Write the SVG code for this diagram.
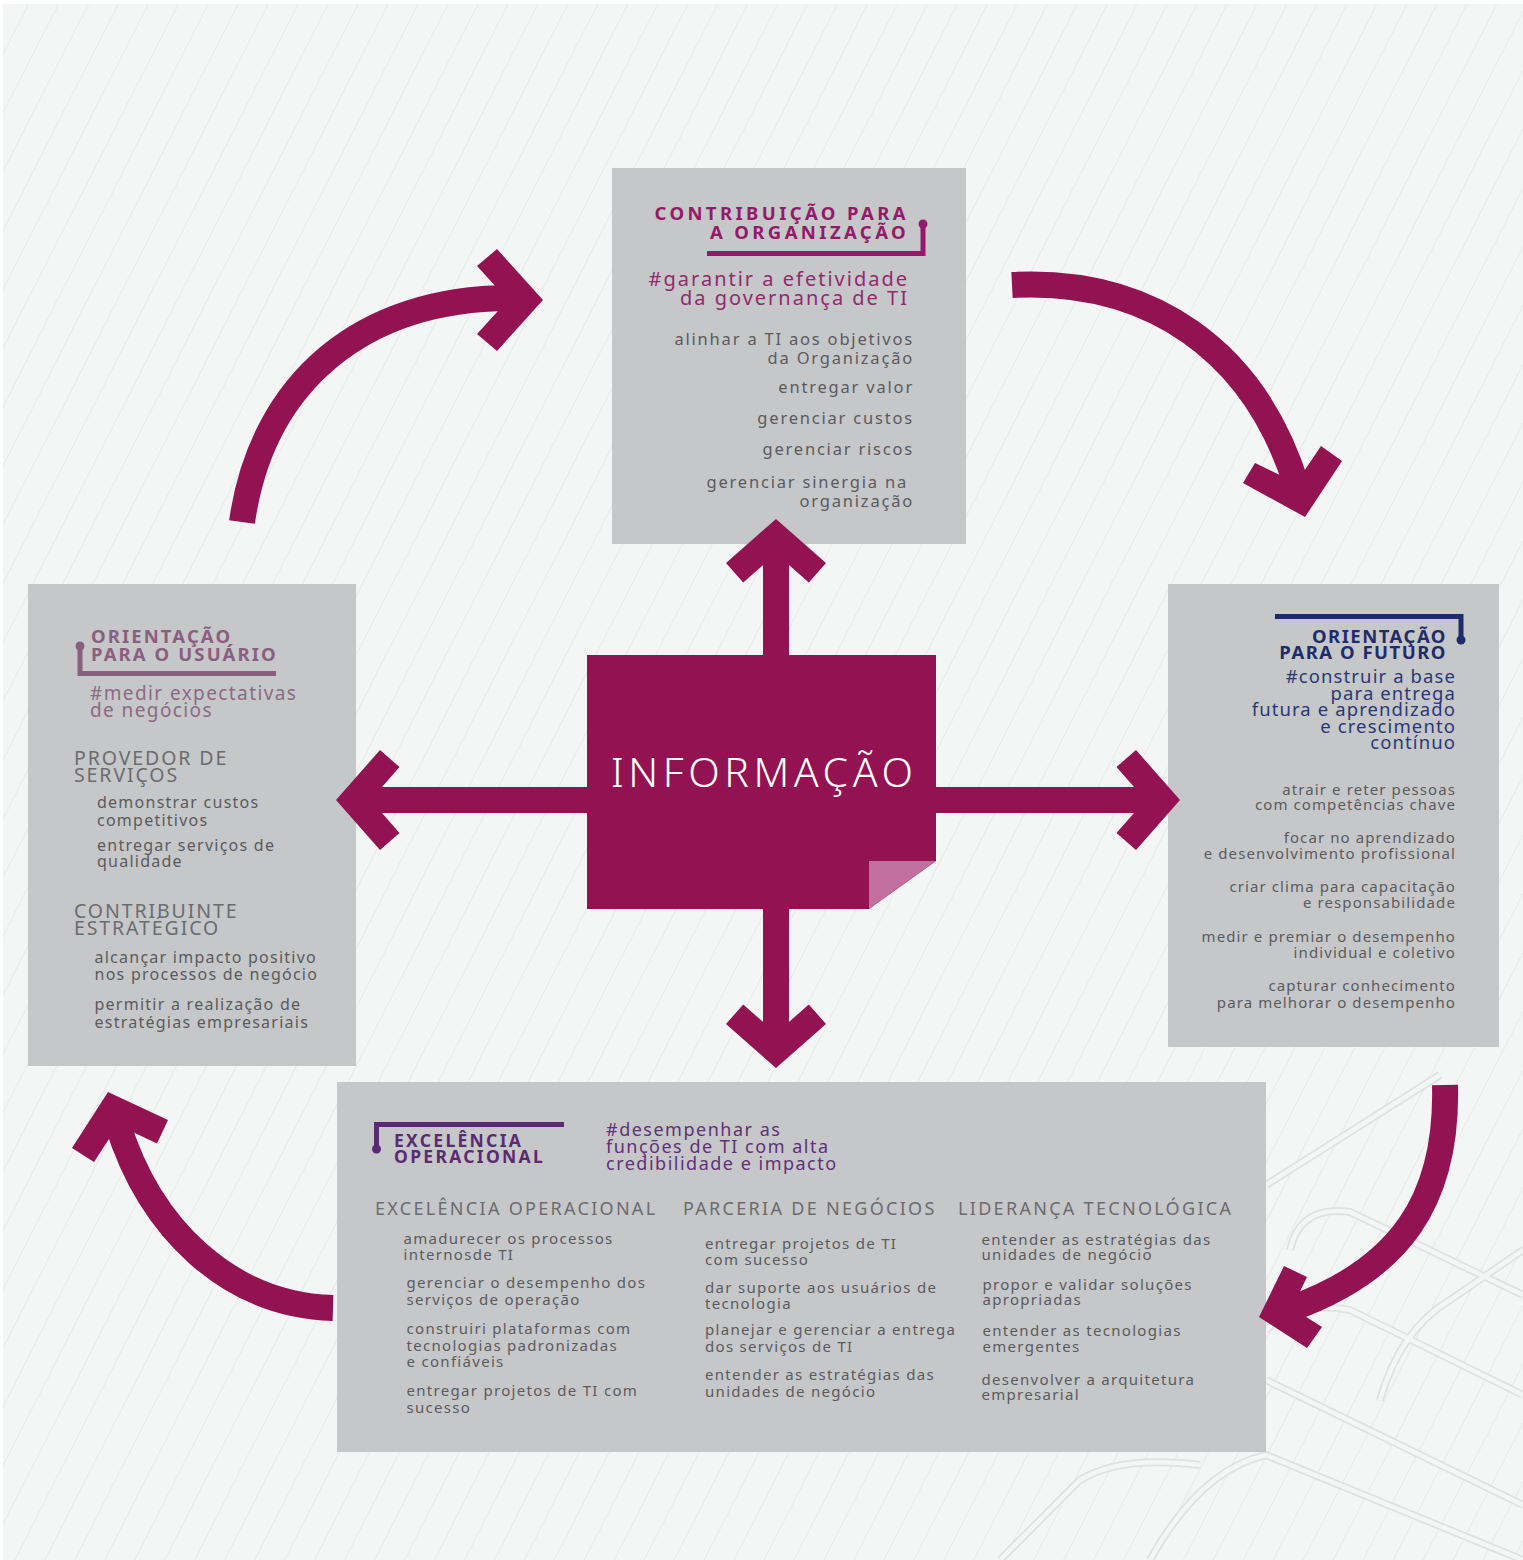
<svg xmlns="http://www.w3.org/2000/svg" width="1523" height="1560" viewBox="0 0 1523 1560">
<defs>
<pattern id="hatch" width="26.7" height="100" patternUnits="userSpaceOnUse" patternTransform="rotate(27)">
<rect width="26.7" height="100" fill="#f4f5f5"/>
<line x1="0.5" y1="0" x2="0.5" y2="100" stroke="#e8e9e9" stroke-width="1"/>
</pattern>
<style>
text{font-family:"Noto Sans","DejaVu Sans",sans-serif}
.box{fill:#c6c7c9}
.mag{fill:#931251}
.arc{fill:none;stroke:#931251;stroke-width:26;stroke-linecap:butt}
.road{fill:none;stroke:#e0e1e2;stroke-width:8}
.roadin{fill:none;stroke:#f4f5f5;stroke-width:4.5}
.r{text-anchor:end}
.ttl{font-size:18.5px;font-weight:700}
.t1{letter-spacing:3.4px;fill:#921a68}
.t2{letter-spacing:2.1px;fill:#8a5f7d}
.t3{letter-spacing:1.5px;fill:#1f2b6b}
.t4{letter-spacing:2.3px;fill:#5a2b72;font-size:17.5px}
.h1{font-size:20px;letter-spacing:2px;fill:#922a6e}
.h2{font-size:19px;letter-spacing:1.4px;fill:#8c6a83}
.h3{font-size:18.5px;letter-spacing:1.1px;fill:#2a3878}
.h4{font-size:18px;letter-spacing:1.5px;fill:#5f3178}
.hd{font-size:19.5px;fill:#6b6c6e;letter-spacing:1.9px}
.hdb{font-size:18px;fill:#6b6c6e;letter-spacing:2.3px}
.i1{font-size:16.5px;fill:#5a5b5d;letter-spacing:1.8px}
.i2{font-size:16px;fill:#5a5b5d;letter-spacing:1.25px}
.i3{font-size:15px;fill:#5a5b5d;letter-spacing:1.1px}
.i4{font-size:15px;fill:#5a5b5d;letter-spacing:1.3px}
</style>
</defs>
<rect x="0" y="0" width="1523" height="1560" fill="#ffffff"/>
<rect x="3" y="4" width="1520" height="1556" fill="url(#hatch)"/>
<g id="background-roads">
<path class="road" d="M1266,1185 L1440,1075"/>
<path class="road" d="M1290,1250 Q1300,1205 1350,1212 L1523,1295"/>
<path class="road" d="M1266,1330 Q1300,1300 1350,1310 L1523,1395"/>
<path class="road" d="M1266,1380 L1523,1505"/>
<path class="road" d="M1150,1560 Q1200,1470 1266,1455 L1523,1560"/>
<path class="road" d="M1380,1400 Q1400,1330 1450,1300 L1523,1250"/>
<path class="road" d="M1000,1560 L1080,1480 Q1120,1455 1200,1465"/>
<path class="roadin" d="M1266,1185 L1440,1075"/>
<path class="roadin" d="M1290,1250 Q1300,1205 1350,1212 L1523,1295"/>
<path class="roadin" d="M1266,1330 Q1300,1300 1350,1310 L1523,1395"/>
<path class="roadin" d="M1266,1380 L1523,1505"/>
<path class="roadin" d="M1150,1560 Q1200,1470 1266,1455 L1523,1560"/>
<path class="roadin" d="M1380,1400 Q1400,1330 1450,1300 L1523,1250"/>
<path class="roadin" d="M1000,1560 L1080,1480 Q1120,1455 1200,1465"/>
</g>

<g id="node-contribuicao">
<rect class="box" x="612" y="168" width="354" height="376"/>
<text class="ttl t1 r" x="909" y="220">CONTRIBUIÇÃO PARA</text>
<text class="ttl t1 r" x="909" y="239">A ORGANIZAÇÃO</text>
<path d="M707,253.5 H923 V225" fill="none" stroke="#921a68" stroke-width="5"/>
<circle cx="923" cy="224" r="4.5" fill="#921a68"/>
<text class="h1 r" x="909" y="286">#garantir a efetividade</text>
<text class="h1 r" x="909" y="305">da governança de TI</text>
<text class="i1 r" x="914" y="345">alinhar a TI aos objetivos</text>
<text class="i1 r" x="914" y="364">da Organização</text>
<text class="i1 r" x="914" y="393">entregar valor</text>
<text class="i1 r" x="914" y="424">gerenciar custos</text>
<text class="i1 r" x="914" y="455">gerenciar riscos</text>
<text class="i1 r" x="908" y="488">gerenciar sinergia na</text>
<text class="i1 r" x="914" y="507">organização</text>
</g>

<g id="node-usuario">
<rect class="box" x="28" y="584" width="328" height="482"/>
<path d="M80,647 V673.5 H276" fill="none" stroke="#8a5f7d" stroke-width="5"/>
<circle cx="80" cy="646" r="4.5" fill="#8a5f7d"/>
<text class="ttl t2" x="91" y="643">ORIENTAÇÃO</text>
<text class="ttl t2" x="91" y="661">PARA O USUÁRIO</text>
<text class="h2" x="90" y="700">#medir expectativas</text>
<text class="h2" x="90" y="717">de negócios</text>
<text class="hd" x="74" y="765">PROVEDOR DE</text>
<text class="hd" x="74" y="782">SERVIÇOS</text>
<text class="i2" x="97" y="808">demonstrar custos</text>
<text class="i2" x="97" y="825.5">competitivos</text>
<text class="i2" x="97" y="850.5">entregar serviços de</text>
<text class="i2" x="97" y="867">qualidade</text>
<text class="hd" x="74" y="918">CONTRIBUINTE</text>
<text class="hd" x="74" y="935">ESTRATÉGICO</text>
<text class="i2" x="94.5" y="962.5">alcançar impacto positivo</text>
<text class="i2" x="94.5" y="980">nos processos de negócio</text>
<text class="i2" x="94.5" y="1010">permitir a realização de</text>
<text class="i2" x="94.5" y="1028">estratégias empresariais</text>
</g>

<g id="node-futuro">
<rect class="box" x="1168" y="584" width="331" height="463"/>
<path d="M1275,616.5 H1461 V640" fill="none" stroke="#1f2b6b" stroke-width="5"/>
<circle cx="1461" cy="640" r="4.5" fill="#1f2b6b"/>
<text class="ttl t3 r" x="1447" y="643">ORIENTAÇÃO</text>
<text class="ttl t3 r" x="1447" y="659">PARA O FUTURO</text>
<text class="h3 r" x="1456" y="683">#construir a base</text>
<text class="h3 r" x="1456" y="699.5">para entrega</text>
<text class="h3 r" x="1456" y="716">futura e aprendizado</text>
<text class="h3 r" x="1456" y="732.5">e crescimento</text>
<text class="h3 r" x="1456" y="748.5">contínuo</text>
<text class="i3 r" x="1456" y="794.5">atrair e reter pessoas</text>
<text class="i3 r" x="1456" y="810">com competências chave</text>
<text class="i3 r" x="1456" y="843">focar no aprendizado</text>
<text class="i3 r" x="1456" y="859">e desenvolvimento profissional</text>
<text class="i3 r" x="1456" y="891.5">criar clima para capacitação</text>
<text class="i3 r" x="1456" y="908">e responsabilidade</text>
<text class="i3 r" x="1456" y="941.5">medir e premiar o desempenho</text>
<text class="i3 r" x="1456" y="957.5">individual e coletivo</text>
<text class="i3 r" x="1456" y="991">capturar conhecimento</text>
<text class="i3 r" x="1456" y="1007.5">para melhorar o desempenho</text>
</g>

<g id="node-excelencia">
<rect class="box" x="337" y="1082" width="929" height="370"/>
<path d="M376.5,1149 V1124.5 H564" fill="none" stroke="#5a2b72" stroke-width="5"/>
<circle cx="376.5" cy="1149" r="4.5" fill="#5a2b72"/>
<text class="ttl t4" x="394" y="1147">EXCELÊNCIA</text>
<text class="ttl t4" x="394" y="1162.5">OPERACIONAL</text>
<text class="h4" x="606" y="1136">#desempenhar as</text>
<text class="h4" x="606" y="1153">funções de TI com alta</text>
<text class="h4" x="606" y="1170">credibilidade e impacto</text>
<text class="hdb" x="375" y="1215">EXCELÊNCIA OPERACIONAL</text>
<text class="hdb" x="683" y="1215">PARCERIA DE NEGÓCIOS</text>
<text class="hdb" x="958" y="1215">LIDERANÇA TECNOLÓGICA</text>
<text class="i4" x="403.5" y="1243.5">amadurecer os processos</text>
<text class="i4" x="403.5" y="1260">internosde TI</text>
<text class="i4" x="406.5" y="1288">gerenciar o desempenho dos</text>
<text class="i4" x="406.5" y="1305">serviços de operação</text>
<text class="i4" x="406.5" y="1333.5">construiri plataformas com</text>
<text class="i4" x="406.5" y="1350.5">tecnologias padronizadas</text>
<text class="i4" x="406.5" y="1366.5">e confiáveis</text>
<text class="i4" x="406.5" y="1396">entregar projetos de TI com</text>
<text class="i4" x="406.5" y="1412.5">sucesso</text>
<text class="i4" x="705" y="1248.5">entregar projetos de TI</text>
<text class="i4" x="705" y="1265">com sucesso</text>
<text class="i4" x="705" y="1292.5">dar suporte aos usuários de</text>
<text class="i4" x="705" y="1308.5">tecnologia</text>
<text class="i4" x="705" y="1335">planejar e gerenciar a entrega</text>
<text class="i4" x="705" y="1352">dos serviços de TI</text>
<text class="i4" x="705" y="1380">entender as estratégias das</text>
<text class="i4" x="705" y="1396.5">unidades de negócio</text>
<text class="i4" x="981.5" y="1244.5">entender as estratégias das</text>
<text class="i4" x="981.5" y="1260">unidades de negócio</text>
<text class="i4" x="982.5" y="1289.5">propor e validar soluções</text>
<text class="i4" x="982.5" y="1305">apropriadas</text>
<text class="i4" x="982.5" y="1336">entender as tecnologias</text>
<text class="i4" x="982.5" y="1352">emergentes</text>
<text class="i4" x="981.5" y="1384.5">desenvolver a arquitetura</text>
<text class="i4" x="981.5" y="1400">empresarial</text>
</g>

<g id="connectors">
<rect class="mag" x="763" y="545" width="26" height="115"/>
<polygon class="mag" points="776,519 726,563 743.2,582.5 776,553.6 808.8,582.5 826,563"/>
<rect class="mag" x="763" y="905" width="26" height="135"/>
<polygon class="mag" points="776,1068 726,1024 743.2,1004.5 776,1033.4 808.8,1004.5 826,1024"/>
<rect class="mag" x="365" y="787" width="225" height="26"/>
<polygon class="mag" points="336,800 380,750 399.5,767 370.6,800 399.5,833 380,850"/>
<rect class="mag" x="933" y="787" width="217" height="26"/>
<polygon class="mag" points="1180,800 1136,750 1116.5,767 1145.4,800 1116.5,833 1136,850"/>

<path class="arc" d="M242,522 C262,382 362,298 511,298"/>
<polygon class="mag" points="543,300 497,249 477,266 508,300 477,334 497,351"/>
<path class="arc" d="M1012,285 C1150,278 1255,350 1297,487"/>
<polygon class="mag" points="1305,517 1243,483 1255,463 1296,483 1321,446 1342,461"/>
<path class="arc" d="M1445,1085 C1448,1200 1400,1270 1290,1309"/>
<polygon class="mag" points="1259,1317 1284,1266 1307,1277 1292,1308 1322,1327 1307,1348"/>
<path class="arc" d="M333,1308 C230,1305 150,1230 117,1122"/>
<polygon class="mag" points="108,1092 72,1148 94,1162 118,1125 157,1143.6 168,1120"/>
</g>

<g id="node-informacao">
<polygon class="mag" points="587,655 936,655 936,861 869,909 587,909"/>
<polygon points="869,861 936,861 869,909" fill="#c06f9e"/>
<text x="611" y="787" fill="#ffffff" style="font-size:41px;letter-spacing:4.6px;font-weight:300">INFORMAÇÃO</text>
</g>
</svg>
